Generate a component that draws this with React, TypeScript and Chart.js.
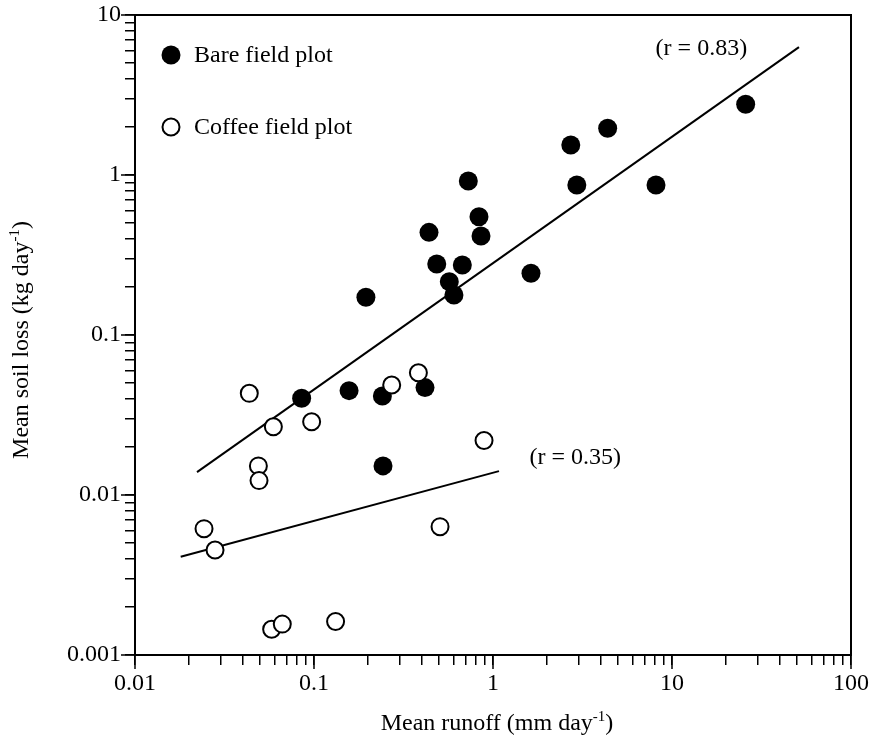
import React, { useEffect, useRef } from 'react';
import { Chart, registerables } from 'chart.js';

Chart.register(...registerables);

// ---- data ----
const BARE_X = [0.0853, 0.157, 0.195, 0.241, 0.243, 0.417, 0.439, 0.485, 0.57, 0.605, 0.674, 0.728, 0.835, 0.857, 1.63, 2.72, 2.94, 4.37, 8.14, 25.8];
const BARE_Y = [0.0402, 0.0449, 0.172, 0.0416, 0.0152, 0.0469, 0.438, 0.278, 0.2155, 0.178, 0.274, 0.917, 0.549, 0.416, 0.243, 1.54, 0.866, 1.96, 0.866, 2.77];

const COFFEE_X = [0.0243, 0.028, 0.0435, 0.0489, 0.0493, 0.058, 0.0593, 0.0665, 0.097, 0.132, 0.2717, 0.383, 0.506, 0.891];
const COFFEE_Y = [0.00616, 0.00453, 0.0432, 0.0152, 0.0123, 0.00145, 0.0267, 0.00156, 0.0287, 0.00162, 0.0487, 0.0581, 0.00634, 0.0219];

const BARE_FIT_X = [0.0222, 51.2];
const BARE_FIT_Y = [0.0139, 6.3];
const COFFEE_FIT_X = [0.018, 1.08];
const COFFEE_FIT_Y = [0.00411, 0.0141];

const ANNOT_TEXT = ['(r = 0.83)', '(r = 0.35)'];
const ANNOT_X = [8.1, 1.6];
const ANNOT_Y = [6.2, 0.017];

const X_MAJOR = [0.01, 0.1, 1, 10, 100];
const X_TICK_LABELS = ['0.01', '0.1', '1', '10', '100'];
const Y_MAJOR = [0.001, 0.01, 0.1, 1, 10];
const Y_TICK_LABELS = ['0.001', '0.01', '0.1', '1', '10'];

const LEGEND_LABELS = ['Bare field plot', 'Coffee field plot'];
const X_TITLE = ['Mean runoff (mm day', '-1', ')'];
const Y_TITLE = ['Mean soil loss (kg day', '-1', ')'];

const FONT = '"Liberation Serif", "Times New Roman", serif';
const MINOR_LEN = 10;
const MAJOR_LEN = 14;

function buildTicks(majors: number[]) {
  const t: { value: number; major: boolean }[] = [];
  for (let i = 0; i < majors.length; i++) {
    t.push({ value: majors[i], major: true });
    if (i < majors.length - 1) {
      for (let m = 2; m <= 9; m++) t.push({ value: Number((majors[i] * m).toPrecision(6)), major: false });
    }
  }
  return t;
}

function labelFor(majors: number[], labels: string[], v: number) {
  for (let i = 0; i < majors.length; i++) if (Math.abs(majors[i] - v) / majors[i] < 1e-6) return labels[i];
  return '';
}

function drawSup(ctx: CanvasRenderingContext2D, parts: string[], cx: number, cy: number) {
  const base = `24px ${FONT}`;
  const sup = `15px ${FONT}`;
  let w = 0;
  parts.forEach((p, i) => {
    ctx.font = i === 1 ? sup : base;
    w += ctx.measureText(p).width;
  });
  let x = cx - w / 2;
  ctx.textBaseline = 'alphabetic';
  ctx.textAlign = 'left';
  parts.forEach((p, i) => {
    ctx.font = i === 1 ? sup : base;
    ctx.fillText(p, x, i === 1 ? cy - 1 : cy + 8);
    x += ctx.measureText(p).width;
  });
}

const overlay = {
  id: 'overlay',
  afterDraw(chart: any) {
    const { ctx, chartArea: a, scales } = chart;
    ctx.save();
    ctx.strokeStyle = '#000';
    ctx.fillStyle = '#000';
    // top & right frame
    ctx.lineWidth = 2;
    ctx.beginPath();
    ctx.moveTo(a.left - 1, a.top);
    ctx.lineTo(a.right, a.top);
    ctx.lineTo(a.right, a.bottom + 1);
    ctx.stroke();
    // longer major ticks
    ctx.lineWidth = 1.5;
    X_MAJOR.forEach((v) => {
      const px = scales.x.getPixelForValue(v);
      ctx.beginPath();
      ctx.moveTo(px, a.bottom);
      ctx.lineTo(px, a.bottom + MAJOR_LEN);
      ctx.stroke();
    });
    Y_MAJOR.forEach((v) => {
      const py = scales.y.getPixelForValue(v);
      ctx.beginPath();
      ctx.moveTo(a.left, py);
      ctx.lineTo(a.left - MAJOR_LEN, py);
      ctx.stroke();
    });
    // annotations
    ctx.font = `24px ${FONT}`;
    ctx.textAlign = 'left';
    ctx.textBaseline = 'middle';
    ANNOT_TEXT.forEach((t, i) => {
      ctx.fillText(t, scales.x.getPixelForValue(ANNOT_X[i]), scales.y.getPixelForValue(ANNOT_Y[i]));
    });
    // legend
    const lx = a.left + 36;
    const ly = [a.top + 40, a.top + 112];
    LEGEND_LABELS.forEach((t, i) => {
      ctx.beginPath();
      ctx.arc(lx, ly[i], i === 0 ? 9.5 : 8.5, 0, Math.PI * 2);
      if (i === 0) {
        ctx.fill();
      } else {
        ctx.fillStyle = '#fff';
        ctx.fill();
        ctx.lineWidth = 2;
        ctx.stroke();
        ctx.fillStyle = '#000';
      }
      ctx.font = `24px ${FONT}`;
      ctx.textBaseline = 'middle';
      ctx.fillText(t, lx + 23, ly[i] + 1);
    });
    // axis titles
    drawSup(ctx, X_TITLE, (a.left + a.right) / 2 + 4, 722);
    ctx.save();
    ctx.translate(20, (a.top + a.bottom) / 2 + 5);
    ctx.rotate(-Math.PI / 2);
    drawSup(ctx, Y_TITLE, 0, 0);
    ctx.restore();
    ctx.restore();
  },
};

export default function App() {
  const ref = useRef<HTMLCanvasElement>(null);
  useEffect(() => {
    if (!ref.current) return;
    const pts = (xs: number[], ys: number[]) => xs.map((x, i) => ({ x, y: ys[i] }));
    const chart = new Chart(ref.current, {
      type: 'scatter',
      data: {
        datasets: [
          {
            label: LEGEND_LABELS[1],
            data: pts(COFFEE_X, COFFEE_Y),
            pointRadius: 8.5,
            pointBackgroundColor: '#fff',
            pointBorderColor: '#000',
            pointBorderWidth: 2,
            order: 0,
          },
          {
            label: LEGEND_LABELS[0],
            data: pts(BARE_X, BARE_Y),
            pointRadius: 9.5,
            pointBackgroundColor: '#000',
            pointBorderColor: '#000',
            pointBorderWidth: 0,
            order: 1,
          },
          {
            type: 'line',
            data: pts(BARE_FIT_X, BARE_FIT_Y),
            borderColor: '#000',
            borderWidth: 2,
            pointRadius: 0,
            showLine: true,
            fill: false,
            order: 2,
          } as any,
          {
            type: 'line',
            data: pts(COFFEE_FIT_X, COFFEE_FIT_Y),
            borderColor: '#000',
            borderWidth: 2,
            pointRadius: 0,
            showLine: true,
            fill: false,
            order: 3,
          } as any,
        ],
      },
      options: {
        animation: false,
        responsive: false,
        devicePixelRatio: 1,
        layout: { padding: { left: 0, right: 20, top: 15, bottom: 0 } },
        plugins: { legend: { display: false }, tooltip: { enabled: false } },
        scales: {
          x: {
            type: 'logarithmic',
            min: 0.01,
            max: 100,
            afterBuildTicks: (s: any) => {
              s.ticks = buildTicks(X_MAJOR);
            },
            afterFit: (s: any) => {
              s.height = 95;
              s.paddingLeft = 0;
              s.paddingRight = 0;
            },
            ticks: {
              autoSkip: false,
              maxRotation: 0,
              minRotation: 0,
              padding: 4,
              color: '#000',
              font: { family: FONT, size: 24 },
              callback: (v: any) => labelFor(X_MAJOR, X_TICK_LABELS, Number(v)),
            },
            grid: { drawOnChartArea: false, drawTicks: true, tickLength: MINOR_LEN, color: '#000', lineWidth: 1.5 },
            border: { display: true, color: '#000', width: 2 },
          },
          y: {
            type: 'logarithmic',
            min: 0.001,
            max: 10,
            afterBuildTicks: (s: any) => {
              s.ticks = buildTicks(Y_MAJOR);
            },
            afterFit: (s: any) => {
              s.width = 135;
              s.paddingTop = 0;
              s.paddingBottom = 0;
            },
            ticks: {
              autoSkip: false,
              padding: 4,
              color: '#000',
              font: { family: FONT, size: 24 },
              callback: (v: any) => labelFor(Y_MAJOR, Y_TICK_LABELS, Number(v)),
            },
            grid: { drawOnChartArea: false, drawTicks: true, tickLength: MINOR_LEN, color: '#000', lineWidth: 1.5 },
            border: { display: true, color: '#000', width: 2 },
          },
        },
      } as any,
      plugins: [overlay],
    });
    return () => chart.destroy();
  }, []);
  return (
    <div style={{ position: 'fixed', left: 0, top: 0, width: 871, height: 750, background: '#fff' }}>
      <canvas ref={ref} width={871} height={750} style={{ display: 'block' }} />
    </div>
  );
}
